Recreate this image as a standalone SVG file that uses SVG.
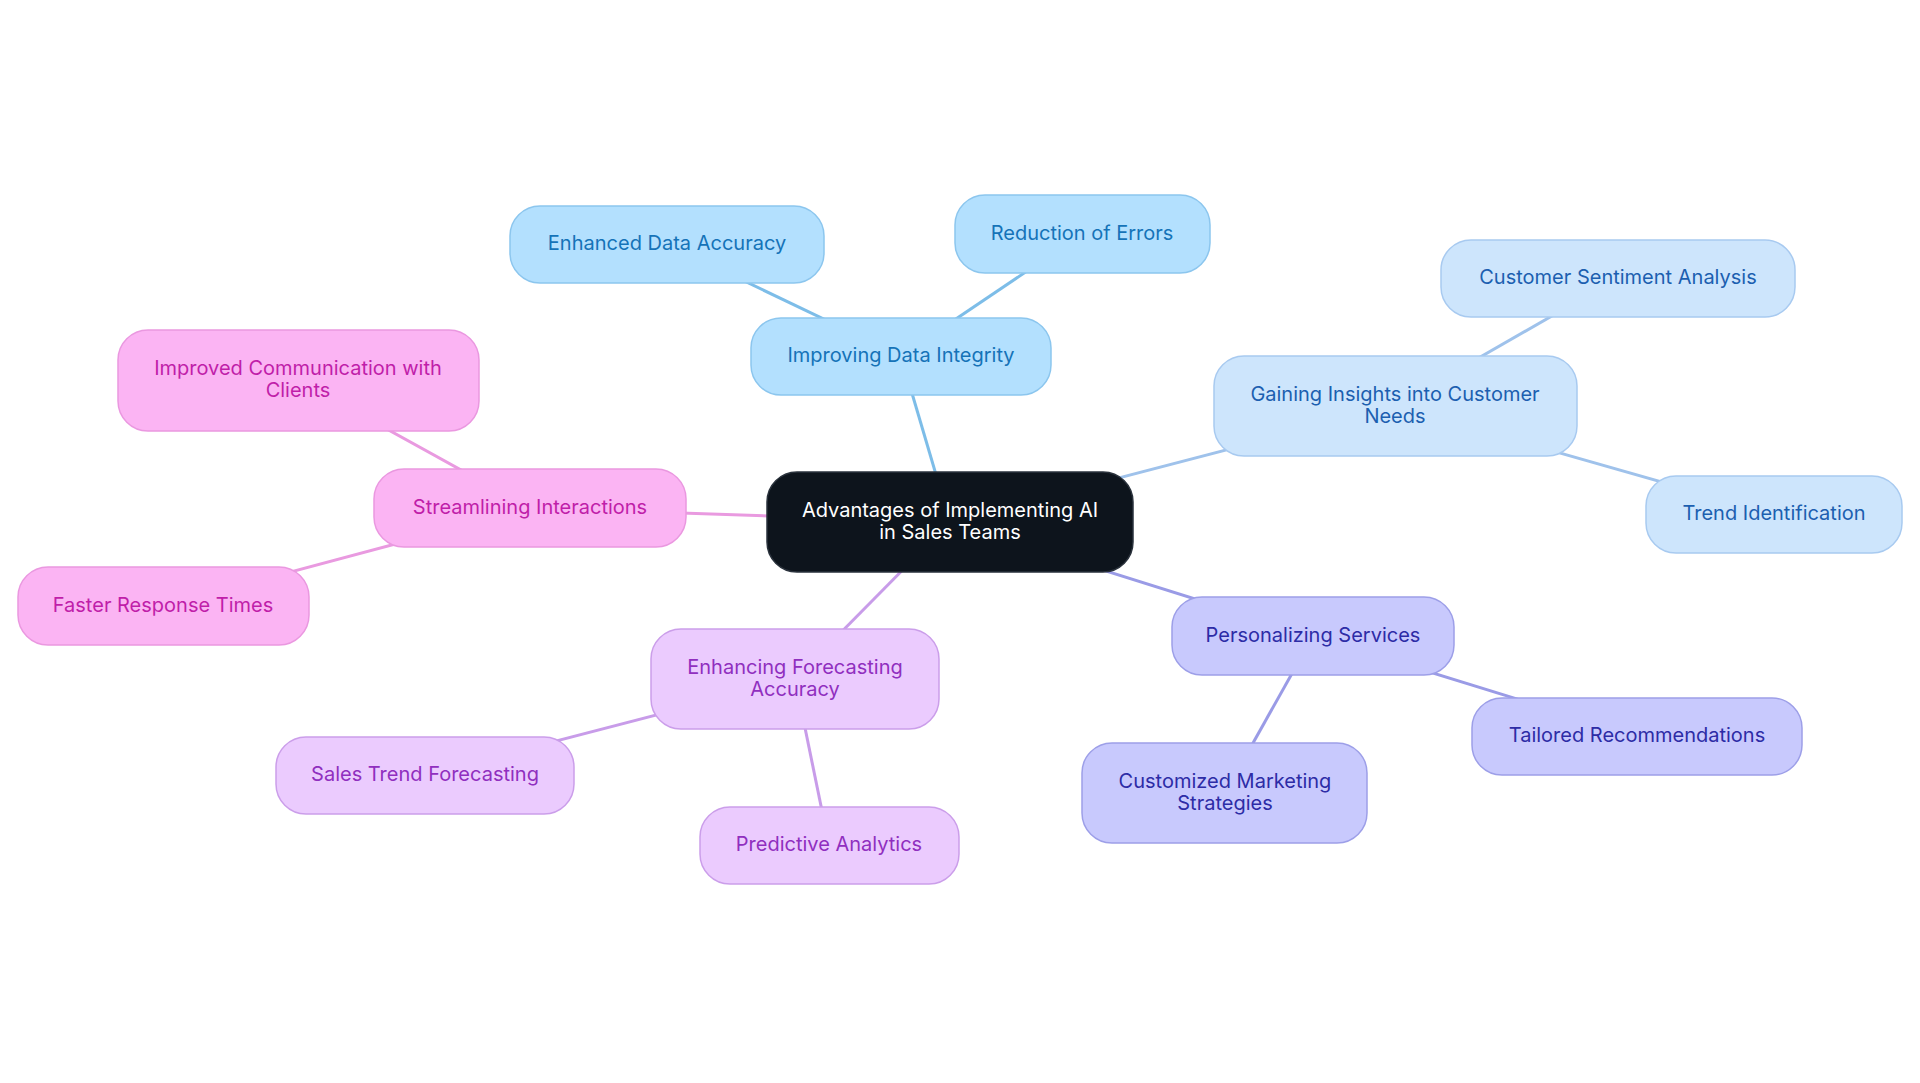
<svg xmlns="http://www.w3.org/2000/svg" width="1920" height="1083" viewBox="0 0 1920 1083">
<style>
text{font-family:Inter,"Noto Sans","Liberation Sans",sans-serif;font-size:20px;text-anchor:middle;dominant-baseline:central}
.n rect{stroke-width:1.5}
.c0 rect{fill:#0d141c;stroke:#2a323c}.c0 text{fill:#ffffff}
.c1 rect{fill:#b3e0fe;stroke:#8cc6ee}.c1 text{fill:#1573b8}
.c2 rect{fill:#cde5fc;stroke:#a8caf0}.c2 text{fill:#1c5fb0}
.c3 rect{fill:#c8c9fd;stroke:#9d9fe8}.c3 text{fill:#2d2ca6}
.c4 rect{fill:#ebcbfe;stroke:#cb9eea}.c4 text{fill:#902fbf}
.c5 rect{fill:#fbb4f3;stroke:#ea98e0}.c5 text{fill:#c01ea9}
#edges line{stroke-width:3;fill:none}
.e1{stroke:#7dbde8}.e2{stroke:#9fc2eb}.e3{stroke:#9a9be6}.e4{stroke:#c89ce9}.e5{stroke:#e99ae0}
</style>
<g id="edges">
<line class="e1" x1="950" y1="522" x2="901" y2="356"/>
<line class="e1" x1="901" y1="356" x2="667" y2="244"/>
<line class="e1" x1="901" y1="356" x2="1082" y2="234"/>
<line class="e2" x1="950" y1="522" x2="1395" y2="406"/>
<line class="e2" x1="1395" y1="406" x2="1618" y2="278"/>
<line class="e2" x1="1395" y1="406" x2="1774" y2="514"/>
<line class="e3" x1="950" y1="522" x2="1313" y2="636"/>
<line class="e3" x1="1313" y1="636" x2="1637" y2="736"/>
<line class="e3" x1="1313" y1="636" x2="1225" y2="793"/>
<line class="e4" x1="950" y1="522" x2="795" y2="679"/>
<line class="e4" x1="795" y1="679" x2="425" y2="775"/>
<line class="e4" x1="795" y1="679" x2="829" y2="845"/>
<line class="e5" x1="950" y1="522" x2="530" y2="508"/>
<line class="e5" x1="530" y1="508" x2="298" y2="380"/>
<line class="e5" x1="530" y1="508" x2="163" y2="606"/>
</g>
<g id="root" class="n c0"><rect x="767" y="472" width="366" height="100" rx="30"/><text x="950" y="510">Advantages of Implementing AI</text><text x="950" y="532">in Sales Teams</text></g>
<g id="improving" class="n c1"><rect x="751" y="318" width="300" height="77" rx="30"/><text x="901" y="355">Improving Data Integrity</text></g>
<g id="enhanced-accuracy" class="n c1"><rect x="510" y="206" width="314" height="77" rx="30"/><text x="667" y="243">Enhanced Data Accuracy</text></g>
<g id="reduction" class="n c1"><rect x="955" y="195" width="255" height="78" rx="30"/><text x="1082" y="233">Reduction of Errors</text></g>
<g id="insights" class="n c2"><rect x="1214" y="356" width="363" height="100" rx="30"/><text x="1395" y="394">Gaining Insights into Customer</text><text x="1395" y="416">Needs</text></g>
<g id="sentiment" class="n c2"><rect x="1441" y="240" width="354" height="77" rx="30"/><text x="1618" y="277">Customer Sentiment Analysis</text></g>
<g id="trend" class="n c2"><rect x="1646" y="476" width="256" height="77" rx="30"/><text x="1774" y="513">Trend Identification</text></g>
<g id="personalizing" class="n c3"><rect x="1172" y="597" width="282" height="78" rx="30"/><text x="1313" y="635">Personalizing Services</text></g>
<g id="tailored" class="n c3"><rect x="1472" y="698" width="330" height="77" rx="30"/><text x="1637" y="735">Tailored Recommendations</text></g>
<g id="customized" class="n c3"><rect x="1082" y="743" width="285" height="100" rx="30"/><text x="1225" y="781">Customized Marketing</text><text x="1225" y="803">Strategies</text></g>
<g id="forecasting" class="n c4"><rect x="651" y="629" width="288" height="100" rx="30"/><text x="795" y="667">Enhancing Forecasting</text><text x="795" y="689">Accuracy</text></g>
<g id="sales-trend" class="n c4"><rect x="276" y="737" width="298" height="77" rx="30"/><text x="425" y="774">Sales Trend Forecasting</text></g>
<g id="predictive" class="n c4"><rect x="700" y="807" width="259" height="77" rx="30"/><text x="829" y="844">Predictive Analytics</text></g>
<g id="streamlining" class="n c5"><rect x="374" y="469" width="312" height="78" rx="30"/><text x="530" y="507">Streamlining Interactions</text></g>
<g id="communication" class="n c5"><rect x="118" y="330" width="361" height="101" rx="30"/><text x="298" y="368">Improved Communication with</text><text x="298" y="390">Clients</text></g>
<g id="faster" class="n c5"><rect x="18" y="567" width="291" height="78" rx="30"/><text x="163" y="605">Faster Response Times</text></g>
</svg>
